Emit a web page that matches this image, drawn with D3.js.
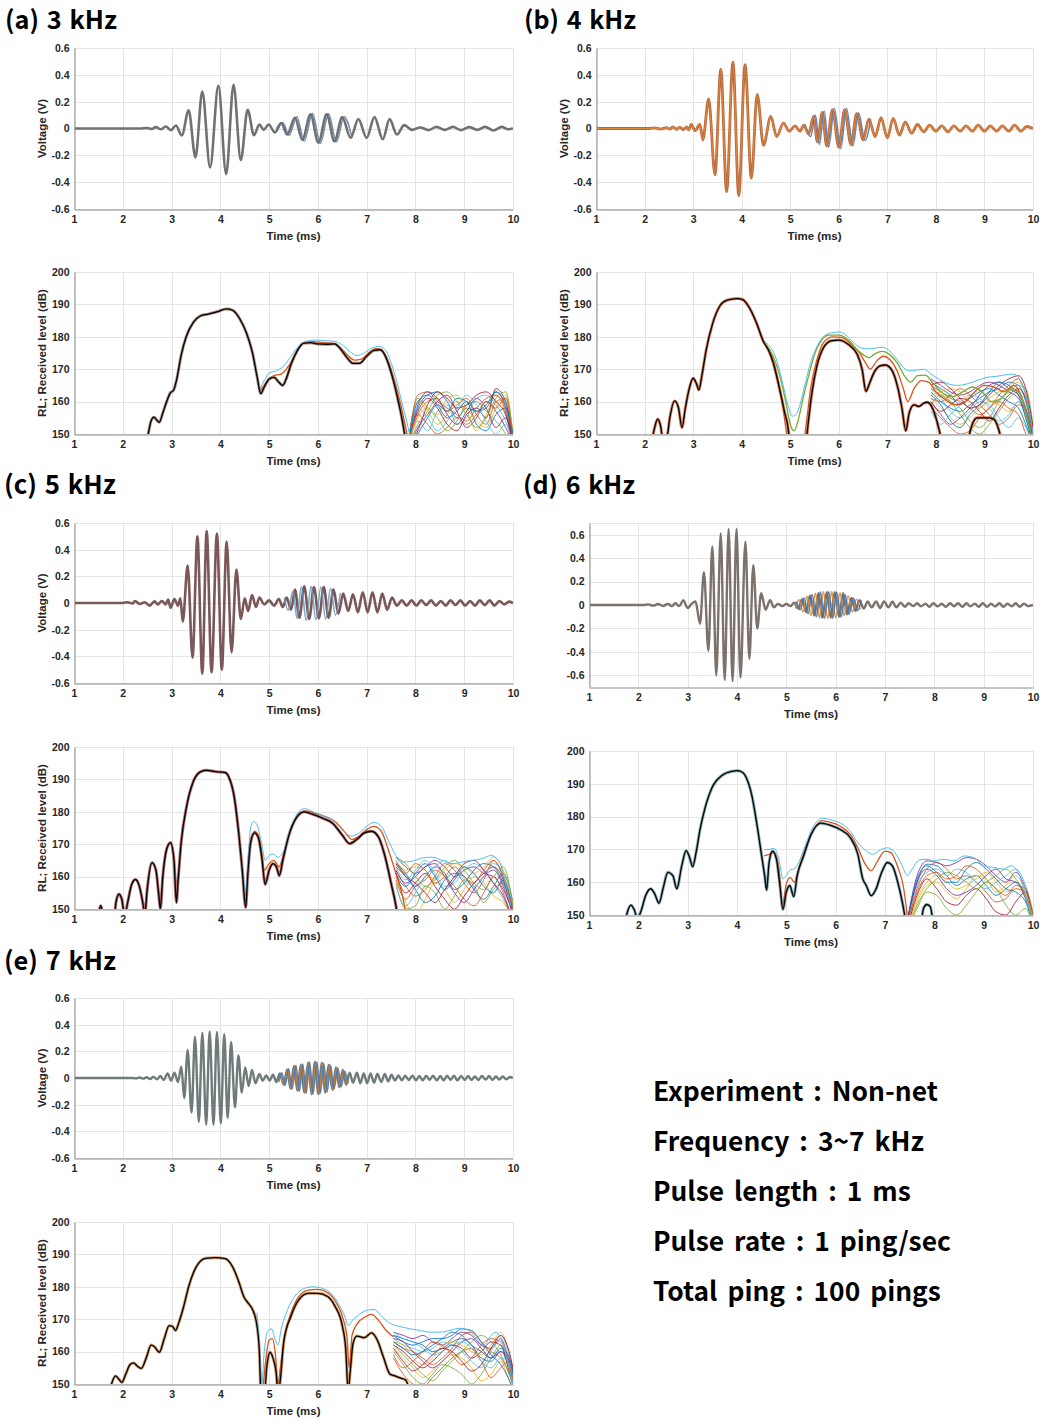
<!DOCTYPE html>
<html><head><meta charset="utf-8">
<script src="https://cdn.jsdelivr.net/npm/d3@7"></script>
<style>body{margin:0;background:#fff}svg{display:block}</style>
</head><body>
<svg id="c" width="1046" height="1420"></svg>
<script>
// ---------------- text / ticks ----------------
const panelLabels = ["(a) 3 kHz", "(b) 4 kHz", "(c) 5 kHz", "(d) 6 kHz", "(e) 7 kHz"];
const timeTicks = [1, 2, 3, 4, 5, 6, 7, 8, 9, 10];
const voltTicks = [-0.6, -0.4, -0.2, 0, 0.2, 0.4, 0.6];
const rlTicks = [150, 160, 170, 180, 190, 200];
const infoLines = ["Experiment : Non-net", "Frequency : 3~7 kHz", "Pulse length : 1 ms", "Pulse rate : 1 ping/sec", "Total ping : 100 pings"];

// ---------------- voltage waveforms (t ms, V) at extrema ----------------
const voltA = [[1,0],[2.35,0],[2.5,0.004],[2.59,-0.004],[2.68,0.01],[2.78,-0.006],[2.88,0.015],[2.99,-0.012],[3.09,0.022],[3.21,-0.052],[3.35,0.135],[3.49,-0.215],[3.63,0.275],[3.79,-0.29],[3.96,0.32],[4.12,-0.34],[4.27,0.325],[4.42,-0.235],[4.56,0.14],[4.69,-0.05],[4.8,0.03],[4.89,-0.01],[4.99,0.03],[5.12,-0.03],[5.25,0.04],[5.37,-0.045],[5.53,0.08],[5.68,-0.085],[5.85,0.105],[6.01,-0.105],[6.18,0.105],[6.34,-0.095],[6.5,0.085],[6.67,-0.07],[6.83,0.07],[7.0,-0.07],[7.16,0.085],[7.33,-0.08],[7.47,0.07],[7.62,-0.045],[7.77,0.025],[7.93,-0.01],[8.1,0.008],[8.27,-0.012],[8.43,0.012],[8.6,-0.01],[8.77,0.012],[8.93,-0.012],[9.1,0.01],[9.27,-0.01],[9.43,0.012],[9.6,-0.015],[9.77,0.012],[9.9,-0.006],[10,0]];
const voltA_alt = [[5.15,0],[5.28,0.045],[5.41,-0.05],[5.57,0.088],[5.72,-0.095],[5.89,0.112],[6.05,-0.112],[6.22,0.11],[6.38,-0.1],[6.54,0.088],[6.7,-0.07]];

const voltB = [[1,0],[2.1,0],[2.2,0.005],[2.33,-0.004],[2.45,0.006],[2.52,-0.005],[2.58,0.012],[2.66,-0.006],[2.72,0.01],[2.8,-0.008],[2.86,0.012],[2.91,-0.01],[2.96,0.03],[3.04,-0.015],[3.14,0.03],[3.2,-0.085],[3.32,0.22],[3.45,-0.345],[3.57,0.44],[3.69,-0.47],[3.82,0.495],[3.94,-0.5],[4.07,0.475],[4.2,-0.37],[4.32,0.255],[4.45,-0.125],[4.6,0.09],[4.72,-0.06],[4.86,0.04],[4.98,-0.02],[5.1,0.02],[5.2,-0.02],[5.28,0.025],[5.38,-0.04],[5.48,0.09],[5.56,-0.1],[5.66,0.12],[5.75,-0.13],[5.87,0.14],[6.0,-0.14],[6.12,0.14],[6.25,-0.12],[6.37,0.11],[6.5,-0.085],[6.62,0.07],[6.75,-0.06],[6.87,0.08],[7.0,-0.07],[7.12,0.075],[7.25,-0.05],[7.37,0.05],[7.5,-0.035],[7.62,0.03],[7.75,-0.025],[7.87,0.025],[8.0,-0.02],[8.12,0.02],[8.25,-0.025],[8.37,0.02],[8.5,-0.02],[8.62,0.02],[8.75,-0.02],[8.87,0.025],[9.0,-0.02],[9.12,0.02],[9.25,-0.02],[9.37,0.02],[9.5,-0.02],[9.62,0.025],[9.75,-0.02],[9.87,0.015],[10,0]];
const voltB_alt = [[5.3,0.03],[5.42,-0.06],[5.52,0.1],[5.6,-0.12],[5.7,0.13],[5.79,-0.14],[5.91,0.15],[6.04,-0.15],[6.16,0.15],[6.29,-0.13],[6.41,0.115],[6.54,-0.09],[6.66,0.07]];

const voltC = [[1,0],[2.0,0],[2.1,0.006],[2.2,-0.004],[2.25,0.015],[2.35,-0.008],[2.45,0.006],[2.55,-0.02],[2.65,0.012],[2.72,-0.01],[2.8,0.015],[2.88,-0.01],[2.93,0.025],[2.98,-0.035],[3.06,0.03],[3.13,-0.02],[3.18,0.035],[3.23,-0.14],[3.33,0.28],[3.43,-0.41],[3.53,0.5],[3.63,-0.53],[3.72,0.54],[3.82,-0.52],[3.93,0.52],[4.03,-0.5],[4.13,0.46],[4.23,-0.37],[4.33,0.25],[4.42,-0.12],[4.5,0.035],[4.57,-0.06],[4.65,0.06],[4.73,-0.03],[4.8,0.04],[4.9,-0.01],[5.0,0.02],[5.1,-0.02],[5.2,0.03],[5.28,-0.03],[5.36,0.04],[5.45,-0.05],[5.53,0.1],[5.62,-0.11],[5.72,0.125],[5.82,-0.12],[5.92,0.12],[6.02,-0.115],[6.12,0.12],[6.22,-0.11],[6.32,0.1],[6.42,-0.08],[6.52,0.07],[6.62,-0.06],[6.72,0.065],[6.82,-0.07],[6.92,0.08],[7.02,-0.07],[7.12,0.08],[7.22,-0.07],[7.32,0.07],[7.42,-0.05],[7.52,0.04],[7.62,-0.02],[7.72,0.02],[7.82,-0.02],[7.92,0.02],[8.02,-0.02],[8.12,0.02],[8.22,-0.015],[8.32,0.02],[8.42,-0.02],[8.52,0.015],[8.62,-0.02],[8.72,0.02],[8.82,-0.015],[8.92,0.02],[9.02,-0.02],[9.12,0.015],[9.22,-0.02],[9.32,0.02],[9.42,-0.015],[9.52,0.02],[9.62,-0.02],[9.72,0.015],[9.82,-0.01],[9.92,0.01],[10,0]];
const voltC_alt = [[5.31,0.04],[5.39,-0.055],[5.49,0.09],[5.57,-0.115],[5.66,0.12],[5.76,-0.13],[5.86,0.125],[5.96,-0.125],[6.06,0.12],[6.16,-0.12],[6.26,0.11],[6.36,-0.09],[6.46,0.075]];

const voltD = [[1,0],[2.1,0],[2.2,0.005],[2.3,-0.005],[2.4,0.008],[2.5,-0.008],[2.6,0.01],[2.68,-0.01],[2.75,0.015],[2.83,-0.01],[2.91,0.04],[3.0,-0.025],[3.08,0.01],[3.16,0.03],[3.25,-0.16],[3.33,0.28],[3.42,-0.39],[3.5,0.5],[3.58,-0.6],[3.67,0.61],[3.75,-0.64],[3.83,0.65],[3.91,-0.65],[3.99,0.65],[4.07,-0.62],[4.17,0.54],[4.25,-0.46],[4.33,0.34],[4.41,-0.2],[4.49,0.1],[4.58,-0.04],[4.67,0.04],[4.75,-0.02],[4.83,0.01],[4.92,-0.01],[5.0,0.01],[5.08,-0.01],[5.16,0.02],[5.24,-0.03],[5.32,0.05],[5.4,-0.06],[5.48,0.08],[5.57,-0.09],[5.65,0.1],[5.73,-0.11],[5.82,0.11],[5.9,-0.11],[5.98,0.11],[6.07,-0.1],[6.15,0.1],[6.23,-0.08],[6.32,0.06],[6.4,-0.05],[6.48,0.04],[6.57,-0.03],[6.65,0.03],[6.73,-0.02],[6.82,0.03],[6.9,-0.025],[6.98,0.03],[7.07,-0.02],[7.15,0.03],[7.23,-0.02],[7.32,0.02],[7.4,-0.015],[7.48,0.015],[7.57,-0.01],[7.65,0.015],[7.73,-0.012],[7.82,0.012],[7.9,-0.015],[7.98,0.015],[8.07,-0.012],[8.15,0.012],[8.23,-0.015],[8.32,0.015],[8.4,-0.012],[8.48,0.015],[8.57,-0.015],[8.65,0.015],[8.73,-0.012],[8.82,0.012],[8.9,-0.015],[8.98,0.015],[9.07,-0.015],[9.15,0.012],[9.23,-0.012],[9.32,0.015],[9.4,-0.015],[9.48,0.012],[9.57,-0.012],[9.65,0.015],[9.73,-0.015],[9.82,0.012],[9.9,-0.01],[10,0]];
const voltD_alt1 = [[5.2,0.03],[5.28,-0.04],[5.36,0.06],[5.44,-0.075],[5.52,0.09],[5.61,-0.1],[5.69,0.11],[5.77,-0.115],[5.86,0.115],[5.94,-0.115],[6.02,0.11],[6.11,-0.105],[6.19,0.09],[6.27,-0.08],[6.36,0.06],[6.44,-0.05],[6.52,0.04]];
const voltD_alt2 = [[5.18,-0.03],[5.26,0.045],[5.34,-0.06],[5.42,0.075],[5.5,-0.09],[5.59,0.1],[5.67,-0.11],[5.75,0.115],[5.84,-0.115],[5.92,0.115],[6.0,-0.11],[6.09,0.105],[6.17,-0.09],[6.25,0.08],[6.34,-0.06],[6.42,0.05],[6.5,-0.04]];

const voltE = [[1,0],[2.2,0],[2.28,-0.003],[2.35,0.004],[2.42,-0.005],[2.49,0.006],[2.56,-0.008],[2.63,0.01],[2.7,-0.01],[2.77,0.015],[2.84,-0.015],[2.92,0.035],[2.99,-0.02],[3.06,0.04],[3.13,-0.03],[3.2,0.085],[3.26,-0.15],[3.33,0.21],[3.41,-0.26],[3.48,0.31],[3.56,-0.33],[3.63,0.34],[3.71,-0.35],[3.78,0.35],[3.86,-0.35],[3.93,0.345],[4.01,-0.34],[4.08,0.33],[4.15,-0.3],[4.22,0.27],[4.3,-0.22],[4.37,0.17],[4.44,-0.11],[4.51,0.08],[4.58,-0.06],[4.65,0.06],[4.72,-0.04],[4.8,0.03],[4.87,-0.02],[4.94,0.02],[5.01,-0.02],[5.08,0.025],[5.15,-0.03],[5.22,0.035],[5.3,-0.05],[5.37,0.065],[5.44,-0.08],[5.51,0.09],[5.58,-0.095],[5.65,0.1],[5.72,-0.11],[5.8,0.115],[5.87,-0.12],[5.94,0.12],[6.01,-0.12],[6.08,0.115],[6.15,-0.11],[6.22,0.1],[6.3,-0.09],[6.37,0.08],[6.44,-0.07],[6.51,0.06],[6.58,-0.05],[6.65,0.04],[6.72,-0.035],[6.8,0.04],[6.87,-0.04],[6.94,0.035],[7.01,-0.04],[7.08,0.035],[7.15,-0.035],[7.22,0.03],[7.3,-0.03],[7.37,0.03],[7.44,-0.025],[7.51,0.025],[7.58,-0.02],[7.65,0.02],[7.72,-0.018],[7.79,0.018],[7.86,-0.015],[7.94,0.018],[8.01,-0.018],[8.08,0.015],[8.15,-0.018],[8.22,0.018],[8.29,-0.015],[8.36,0.018],[8.44,-0.018],[8.51,0.015],[8.58,-0.018],[8.65,0.018],[8.72,-0.015],[8.79,0.018],[8.86,-0.018],[8.94,0.015],[9.01,-0.015],[9.08,0.015],[9.15,-0.015],[9.22,0.012],[9.29,-0.015],[9.36,0.015],[9.44,-0.012],[9.51,0.015],[9.58,-0.015],[9.65,0.012],[9.72,-0.012],[9.79,0.012],[9.86,-0.01],[9.94,0.008],[10,0]];
const voltE_alt1 = [[5.2,-0.03],[5.26,0.04],[5.33,-0.055],[5.4,0.07],[5.47,-0.085],[5.55,0.095],[5.62,-0.1],[5.69,0.105],[5.76,-0.115],[5.83,0.12],[5.9,-0.12],[5.98,0.12],[6.05,-0.115],[6.12,0.11],[6.19,-0.105],[6.26,0.095],[6.33,-0.085],[6.41,0.075],[6.48,-0.065],[6.55,0.05],[6.62,-0.04]];
const voltE_alt2 = [[5.24,0.035],[5.31,-0.05],[5.38,0.065],[5.45,-0.08],[5.53,0.09],[5.6,-0.1],[5.67,0.105],[5.74,-0.11],[5.81,0.115],[5.88,-0.12],[5.96,0.12],[6.03,-0.12],[6.1,0.115],[6.17,-0.105],[6.24,0.1],[6.31,-0.09],[6.39,0.08],[6.46,-0.065],[6.53,0.055],[6.6,-0.045]];

// ---------------- received level (t ms, dB) ----------------
const rlA_black = [[2.45,146],[2.52,150],[2.58,154],[2.64,155.2],[2.7,154.2],[2.75,153.6],[2.82,156.5],[2.9,160],[2.97,162.6],[3.04,163.5],[3.1,166.5],[3.2,174.5],[3.3,180],[3.45,184.5],[3.6,186.5],[3.75,187],[3.95,187.8],[4.12,188.6],[4.25,188.2],[4.4,185.5],[4.54,181],[4.66,175],[4.75,168],[4.83,162.5],[4.9,164.5],[5.0,167],[5.1,167.5],[5.2,166],[5.28,165],[5.35,167],[5.45,171.5],[5.57,175.5],[5.7,178],[5.85,178.2],[6.0,177.8],[6.2,177.7],[6.35,177.8],[6.45,176.5],[6.6,173.5],[6.72,171.8],[6.85,171.8],[7.0,174],[7.15,175.8],[7.28,176],[7.4,173.5],[7.52,168],[7.62,162],[7.72,155],[7.8,148]];
const rlA_upper = [[4.8,163.5],[4.9,166.5],[5.0,168.8],[5.15,169.5],[5.3,171],[5.45,174],[5.6,177],[5.75,178.6],[5.95,179],[6.15,178.8],[6.35,178.6],[6.5,177.5],[6.65,175.5],[6.8,174.2],[6.95,175],[7.1,176.5],[7.25,177],[7.38,176],[7.5,172],[7.62,166],[7.75,158],[7.85,152],[7.92,147]];
const rlA_mid = [[4.8,163],[4.95,166],[5.1,168],[5.25,168.5],[5.4,171],[5.55,175],[5.7,178],[5.9,178.5],[6.1,178.2],[6.3,178],[6.45,176.8],[6.6,174.5],[6.75,172.8],[6.9,173.2],[7.05,175.2],[7.2,176.4],[7.33,175.5],[7.45,172],[7.58,166],[7.7,159],[7.8,152],[7.87,147]];
const rlA_tailT = [7.85, 8.05, 8.25, 8.45, 8.65, 8.85, 9.05, 9.25, 9.45, 9.65, 9.85, 10];
const rlA_tail = [
  [147,158,162,163,160,155,158,157,159,163,158,148],
  [146,156,160,161,157,159,161,156,153,160,161,150],
  [148,160,157,153,156,160,157,151,156,162,156,146],
  [145,152,156,160,162,157,152,155,160,157,152,147],
  [147,161,158,155,151,154,159,160,157,154,150,145],
  [146,154,151,157,159,153,155,161,162,159,154,148],
  [148,157,161,158,153,151,156,158,155,164,160,149],
  [145,150,155,159,157,161,160,153,151,156,158,147],
  [147,162,163,160,158,156,154,158,161,162,157,146],
  [146,155,158,156,161,162,158,154,152,158,162,150],
  [147,159,163,161,156,153,157,161,158,152,155,146],
  [146,153,157,162,163,160,156,152,155,161,163,149],
  [148,158,155,151,154,158,162,159,154,150,153,145],
  [145,151,159,163,161,158,159,162,163,160,156,148],
  [147,160,162,159,155,157,160,157,158,163,159,150],
  [146,156,153,150,152,155,153,156,160,158,161,147]
];

const rlB_black = [[2.15,148],[2.2,151.5],[2.27,154.6],[2.33,152.5],[2.38,148],[2.46,149],[2.52,155],[2.62,160.2],[2.7,158],[2.77,152],[2.84,158],[2.92,164],[3.0,167.2],[3.07,165.5],[3.12,163.6],[3.18,168],[3.27,176],[3.4,184],[3.55,189.5],[3.7,191.3],[3.9,191.8],[4.02,191.5],[4.15,189.2],[4.3,184.5],[4.45,178.5],[4.55,176],[4.65,172],[4.78,164],[4.88,157],[4.97,150],[5.02,140],[5.28,140],[5.36,152],[5.45,163],[5.55,171],[5.68,176.5],[5.85,178.8],[6.0,179],[6.2,177.6],[6.38,174.6],[6.48,170],[6.56,163.2],[6.63,165.5],[6.72,168.8],[6.85,171],[6.96,171.3],[7.1,169.5],[7.22,164],[7.3,158],[7.38,151],[7.45,156.5],[7.55,159],[7.65,158.5],[7.75,159.5],[7.82,159.8],[7.92,158.3],[8.02,154],[8.1,149],[8.2,140],[8.6,140],[8.68,149],[8.75,153],[8.85,155],[9.1,155],[9.2,154.5],[9.28,152],[9.35,148],[9.45,140]];
const rlB_upper = [[4.45,178.8],[4.55,177.5],[4.68,174.5],[4.8,168.5],[4.9,162],[4.97,158],[5.05,155.5],[5.12,156],[5.2,159],[5.3,165],[5.42,172],[5.55,177],[5.7,180.3],[5.85,181.2],[6.02,181.5],[6.15,180.5],[6.3,178.3],[6.45,176.6],[6.6,176.3],[6.75,176.5],[6.9,176.8],[7.02,176],[7.15,174],[7.3,171],[7.45,169.5],[7.6,169.7],[7.75,170],[7.9,168.5],[8.05,167],[8.25,165.5],[8.45,165],[8.65,165.5],[8.85,166.5],[9.05,167.5],[9.25,167.8],[9.45,168.3],[9.6,168.5],[9.72,167],[9.85,162],[9.95,155],[10,150]];
const rlB_mid = [[4.5,177],[4.62,174],[4.75,166],[4.85,158],[4.93,150],[5.0,145],[5.25,145],[5.32,152],[5.42,164],[5.55,173],[5.7,178.5],[5.88,180],[6.05,179.8],[6.25,177.8],[6.42,175.2],[6.55,172],[6.65,170],[6.78,172.5],[6.92,174],[7.05,173],[7.2,169.5],[7.33,164],[7.42,160],[7.55,164],[7.7,166.5],[7.85,166],[8.0,163],[8.2,160.5],[8.4,159],[8.6,160],[8.8,163],[9.0,165],[9.2,164.5],[9.4,163],[9.6,165],[9.75,162],[9.9,154],[10,148]];
const rlB_mid2 = [[4.5,177.5],[4.65,174],[4.8,167],[4.92,159],[5.0,153],[5.08,151],[5.16,154],[5.25,160],[5.38,168],[5.5,174.5],[5.65,179],[5.8,180.5],[6.0,180.5],[6.2,179],[6.38,176],[6.5,174.5],[6.62,173.5],[6.75,174.8],[6.9,175.5],[7.05,174.5],[7.2,172],[7.35,168],[7.48,166],[7.62,168],[7.78,168.2],[7.95,165.5],[8.15,162.5],[8.35,161.5],[8.55,163],[8.75,164.5],[8.95,163],[9.15,160],[9.35,161],[9.55,164],[9.7,163],[9.85,157],[9.95,151]];
const rlB_tailT = [7.9, 8.1, 8.3, 8.5, 8.7, 8.9, 9.1, 9.3, 9.5, 9.7, 9.85, 10];
const rlB_tail = [
  [163,160,158,157,159,161,163,164,166,165,160,150],
  [165,163,161,160,158,156,158,162,165,167,162,152],
  [161,158,155,153,155,158,160,159,157,160,156,148],
  [167,165,163,162,163,165,166,165,163,161,157,150],
  [159,162,160,156,152,150,153,157,161,163,158,149],
  [164,161,157,155,157,160,159,155,152,155,152,146],
  [160,157,159,161,160,157,154,158,162,164,161,151],
  [166,164,162,159,161,163,164,162,160,158,153,147],
  [158,155,152,150,151,155,158,160,158,156,150,145],
  [162,163,164,163,160,158,161,163,164,166,163,152],
  [160,156,153,155,158,162,165,166,164,162,158,149],
  [164,162,160,158,154,152,155,160,163,165,164,153],
  [157,153,156,159,162,161,158,154,156,160,155,146],
  [165,166,164,161,158,159,162,165,167,168,164,152],
  [162,159,154,152,156,159,163,166,165,162,155,147],
  [161,160,162,164,162,159,156,153,155,159,157,148]
];

const rlC_black = [[1.5,148],[1.55,151],[1.6,148],[1.82,147],[1.86,152],[1.92,154.6],[1.98,153],[2.04,148],[2.1,152],[2.18,157.5],[2.26,159.1],[2.34,157],[2.42,151],[2.45,148],[2.5,156],[2.6,164.3],[2.68,162],[2.74,154],[2.77,150],[2.82,160],[2.9,168.5],[2.98,170.5],[3.05,165],[3.1,152],[3.13,158],[3.2,171],[3.3,181],[3.45,189.5],[3.6,192.4],[3.72,192.8],[3.9,192.4],[4.1,192.1],[4.18,190.5],[4.28,185],[4.38,173],[4.45,162],[4.52,150.5],[4.56,160],[4.62,170.5],[4.7,173.5],[4.78,172],[4.85,166],[4.92,157.6],[5.0,162],[5.08,164],[5.15,163],[5.21,160.3],[5.28,165],[5.4,172.5],[5.55,178],[5.72,180],[5.9,179.2],[6.1,178],[6.3,176.5],[6.5,172.8],[6.65,170.2],[6.8,171.5],[6.95,173.5],[7.1,174],[7.25,172],[7.38,166],[7.5,158],[7.6,151],[7.65,146]];
const rlC_upper = [[4.45,164],[4.52,155],[4.56,163],[4.62,175],[4.68,177],[4.75,176],[4.85,170],[4.92,165],[5.0,166.5],[5.08,167],[5.18,166],[5.3,168],[5.42,174],[5.58,179.5],[5.72,181],[5.9,180],[6.1,178.8],[6.3,177.5],[6.5,174.5],[6.68,172.5],[6.85,173.5],[7.0,175.5],[7.15,176.7],[7.3,175.5],[7.45,171],[7.6,166.5],[7.75,164.5],[7.95,164.8],[8.15,165.8],[8.35,166],[8.55,165],[8.75,164],[8.95,164.5],[9.15,165],[9.35,165.5],[9.55,166.5],[9.7,165],[9.85,158],[9.95,151]];
const rlC_mid = [[4.6,168],[4.7,174],[4.8,172],[4.9,162],[5.0,164],[5.1,165],[5.2,163],[5.3,167],[5.45,175],[5.6,179],[5.75,180.3],[5.95,179.5],[6.15,178.5],[6.35,177],[6.55,173.8],[6.7,171.5],[6.85,172.5],[7.0,174.5],[7.15,175.5],[7.3,174],[7.45,168],[7.6,161],[7.72,155],[7.8,149]];
const rlC_tailT = [7.6, 7.8, 8.0, 8.2, 8.4, 8.6, 8.8, 9.0, 9.2, 9.4, 9.6, 9.8, 10];
const rlC_tail = [
  [165,160,157,160,163,161,156,158,162,164,163,158,150],
  [162,157,154,156,160,164,162,158,155,159,165,160,151],
  [160,152,148,153,158,156,152,156,160,158,154,152,147],
  [166,163,161,163,165,163,160,162,163,161,160,156,149],
  [158,150,151,157,155,150,154,159,157,152,156,158,150],
  [163,159,162,165,161,157,158,162,164,162,158,153,147],
  [161,155,158,161,157,153,150,154,158,161,163,159,148],
  [164,161,156,152,154,159,161,160,156,153,157,161,152],
  [159,153,157,159,162,160,157,153,151,155,160,155,146],
  [165,162,163,162,159,162,164,163,161,163,166,162,152],
  [162,158,160,163,164,160,155,152,156,160,162,157,148],
  [166,164,160,157,159,163,165,162,158,156,160,163,151],
  [157,151,155,160,163,165,162,159,157,160,164,161,150],
  [164,160,158,155,152,156,160,164,165,162,158,154,146],
  [161,157,161,164,160,156,159,163,161,157,155,159,149],
  [163,161,164,162,158,160,163,160,158,162,165,160,150]
];

const rlD_black = [[1.72,147],[1.78,151],[1.85,153],[1.92,151.5],[1.98,149],[2.05,151],[2.15,156],[2.25,158],[2.33,156.5],[2.42,153.6],[2.5,158],[2.6,163],[2.7,162],[2.78,158],[2.88,165],[2.97,169.6],[3.04,167.5],[3.1,164.7],[3.17,169],[3.25,176],[3.35,182.5],[3.5,189],[3.7,192.6],[3.9,193.8],[4.0,194],[4.1,193.6],[4.2,191.5],[4.3,186.5],[4.4,178],[4.5,168],[4.56,162],[4.6,157.6],[4.65,166],[4.72,169.5],[4.8,167],[4.87,159],[4.93,151.7],[5.0,157],[5.07,159],[5.15,155.6],[5.22,162],[5.35,168],[5.5,174.5],[5.7,178],[5.9,177.3],[6.1,176],[6.3,173.5],[6.45,168.5],[6.55,161],[6.62,159],[6.72,155.9],[6.82,158],[6.92,162.5],[7.05,166],[7.15,165],[7.25,160.5],[7.35,154],[7.42,148],[7.5,140],[7.7,144],[7.78,152],[7.85,153.2],[7.92,152.5],[7.97,148],[8.05,140]];
const rlD_upper = [[4.55,170],[4.65,170],[4.75,170.3],[4.85,167],[4.93,161],[5.0,162],[5.08,163.8],[5.15,164],[5.25,166],[5.38,171],[5.55,177],[5.72,179.5],[5.9,179],[6.1,178],[6.3,175.5],[6.45,172],[6.6,169.8],[6.75,168.5],[6.9,169.8],[7.05,170.5],[7.2,169],[7.35,165],[7.45,162],[7.55,164],[7.7,166.8],[7.85,167],[8.0,166.5],[8.2,167],[8.4,166.5],[8.6,168],[8.8,167.5],[9.0,165],[9.2,164.5],[9.4,164],[9.55,165],[9.7,163],[9.85,156],[9.95,150]];
const rlD_mid = [[4.55,168],[4.65,168.5],[4.75,169],[4.85,164],[4.92,153],[5.0,159.5],[5.08,161.5],[5.16,160],[5.25,164],[5.4,171],[5.55,176],[5.72,178.8],[5.9,178.2],[6.1,177],[6.3,174.5],[6.45,170.5],[6.6,165.5],[6.72,163.5],[6.85,166.5],[7.0,169.5],[7.12,169],[7.25,165],[7.38,158],[7.45,150]];
const rlD_tailT = [7.45, 7.65, 7.85, 8.05, 8.25, 8.45, 8.65, 8.85, 9.05, 9.25, 9.45, 9.65, 9.85, 10];
const rlD_tail = [
  [148,160,165.5,165,162,159,161,162,159,156,158,160,156,150],
  [147,158,164,166,164,161,162,160,157,154,155,158,157,149],
  [146,155,160,162,160,158,159,161,163,160,157,158,155,148],
  [148,162,166.5,166,165,166,167.5,167,165,162,160,163,158,150],
  [145,152,157,156,152,150,153,157,160,158,153,150,152,146],
  [147,159,163,164,162,164,163,160,158,160,162,164,159,151],
  [146,156,161,158,154,153,156,158,155,151,150,154,157,148],
  [148,161,165,163,160,160,164,166,164,161,158,157,154,147],
  [147,157,162,163,161,162,165,164,161,158,156,159,158,150],
  [146,154,159,160,157,155,158,162,161,157,159,162,157,149],
  [148,160,164,162,158,156,157,159,162,164,161,160,155,147],
  [145,153,158,161,163,162,160,158,160,162,164,161,156,148]
];

const rlE_black = [[1.72,147],[1.78,150.5],[1.85,152.5],[1.92,151.5],[1.98,150.5],[2.06,153],[2.15,156],[2.22,156.5],[2.3,155.5],[2.38,154.8],[2.48,158],[2.58,162],[2.65,161.5],[2.75,159.8],[2.85,164],[2.95,168],[3.02,167.8],[3.08,166.5],[3.15,169],[3.25,174],[3.35,180],[3.5,186],[3.7,188.8],[3.9,189],[4.1,188.7],[4.25,186.2],[4.38,181.5],[4.48,177],[4.58,174.8],[4.66,173],[4.74,169],[4.8,160],[4.83,148],[4.9,146],[4.95,155],[5.02,159.8],[5.08,158],[5.14,154],[5.18,148],[5.22,150],[5.3,163],[5.45,171],[5.6,175.8],[5.8,178],[6.0,178],[6.2,177],[6.35,174],[6.5,168],[6.57,161],[6.62,148],[6.67,155],[6.72,162.5],[6.8,164.8],[6.95,164.3],[7.1,165.8],[7.22,163.5],[7.35,158],[7.48,153],[7.58,152.5],[7.7,151.8],[7.8,151.2],[7.88,148]];
const rlE_upper = [[4.75,172],[4.8,163],[4.85,150],[4.9,160],[4.98,166.5],[5.05,167],[5.12,164],[5.18,162],[5.25,167],[5.38,173],[5.55,177.5],[5.72,179.5],[5.9,180],[6.1,179.5],[6.3,177.5],[6.45,174],[6.55,171],[6.62,168],[6.7,169.5],[6.85,171.5],[7.0,172.7],[7.15,173],[7.3,171],[7.45,169],[7.6,168],[7.75,167.5],[7.9,167],[8.1,166.5],[8.3,166],[8.5,166],[8.7,166.5],[8.9,167.2],[9.1,166.5],[9.25,164],[9.4,162],[9.55,165],[9.65,166],[9.8,162],[9.92,155],[10,150]];
const rlE_mid = [[4.8,160],[4.86,148],[4.92,156],[5.0,163.5],[5.07,164],[5.13,159],[5.18,150],[5.23,155],[5.32,165],[5.45,172],[5.6,176.8],[5.8,179],[6.0,179.2],[6.2,178.2],[6.38,175],[6.52,170],[6.6,164],[6.64,155],[6.7,165],[6.8,168.5],[6.95,170.5],[7.1,171.5],[7.25,169.5],[7.4,166.5],[7.55,164.5]];
const rlE_tailT = [7.55, 7.75, 7.95, 8.15, 8.35, 8.55, 8.75, 8.95, 9.15, 9.35, 9.55, 9.75, 9.9, 10.05];
const rlE_tail = [
  [165,164,163,162,160,161,163,164,162,158,157,160,156,148],
  [163,161,160,158,156,158,161,165,166,163,160,158,154,147],
  [161,158,155,152,154,157,159,158,155,151,153,157,152,146],
  [166,165,164,165,163,162,164,166,165,162,161,164,158,149],
  [160,156,152,150,153,156,155,153,150,153,158,162,156,148],
  [164,162,161,160,161,163,162,160,157,155,160,165,160,150],
  [162,160,157,155,157,160,162,161,158,160,163,162,155,147],
  [165,163,162,163,164,164,165,167,166.5,163,159,156,152,146],
  [158,153,150,149,152,155,158,160,161,157,152,155,157,149],
  [163,162,158,156,158,162,163,162,160,159,162,166,161,151],
  [164,163,160,157,155,157,160,163,164,161,158,160,158,149],
  [162,159,156,153,151,154,157,160,163,165,163,159,154,147],
  [166,164,163,161,159,160,162,163,161,157,155,158,157,148],
  [161,157,154,156,159,161,160,157,154,156,161,165,161,151],
  [163,161,159,160,162,164,166,165,162,160,158,161,159,150],
  [159,155,157,160,163,162,159,156,158,162,164,163,157,148]
];

// ---------------- drawing ----------------
const PALETTE = ['#0072BD','#D95319','#EDB120','#7E2F8E','#77AC30','#4DBEEE','#A2142F'];
const svg = d3.select('#c');
const AXIS_FONT = "'Liberation Sans', Arial, sans-serif";
const TITLE_FONT = "'Noto Sans CJK KR', 'Noto Sans', sans-serif";
let clipId = 0;

function plot(box, yDomain, yTicks, yLabel, series) {
  const g = svg.append('g');
  const x = d3.scaleLinear().domain([1, 10]).range([box.L, box.R]);
  const y = d3.scaleLinear().domain(yDomain).range([box.B, box.T]);
  g.append('g').selectAll('line').data(timeTicks).join('line')
    .attr('x1', d => Math.round(x(d)) + 0.5).attr('x2', d => Math.round(x(d)) + 0.5)
    .attr('y1', box.T).attr('y2', box.B).attr('stroke', '#e4e4e4');
  g.append('g').selectAll('line').data(yTicks.concat([yDomain[1]])).join('line')
    .attr('y1', d => Math.round(y(d)) + 0.5).attr('y2', d => Math.round(y(d)) + 0.5)
    .attr('x1', box.L).attr('x2', box.R).attr('stroke', '#e4e4e4');
  const xa = g.append('g').attr('transform', `translate(0,${box.B + 0.5})`)
    .call(d3.axisBottom(x).tickValues(timeTicks).tickSize(0).tickPadding(6.5).tickFormat(d => String(d)));
  const ya = g.append('g').attr('transform', `translate(${box.L + 0.5},0)`)
    .call(d3.axisLeft(y).tickValues(yTicks).tickSize(0).tickPadding(5).tickFormat(d => String(d)));
  [xa, ya].forEach(a => {
    a.select('.domain').attr('stroke', '#8c8c8c').attr('stroke-width', 1);
    a.selectAll('text').attr('font-family', AXIS_FONT).attr('font-weight', 'bold')
      .attr('font-size', '10.5px').attr('fill', '#262626');
  });
  g.append('text').attr('x', (box.L + box.R) / 2).attr('y', box.B + 31)
    .attr('text-anchor', 'middle').attr('font-family', AXIS_FONT).attr('font-weight', 'bold')
    .attr('font-size', '11.5px').attr('fill', '#262626').text('Time (ms)');
  if (yLabel) {
    g.append('text').attr('transform', `translate(${box.L - 28},${(box.T + box.B) / 2}) rotate(-90)`)
      .attr('text-anchor', 'middle').attr('font-family', AXIS_FONT).attr('font-weight', 'bold')
      .attr('font-size', '11.5px').attr('fill', '#262626').text(yLabel);
  }
  const id = 'clip' + (clipId++);
  g.append('clipPath').attr('id', id).append('rect')
    .attr('x', box.L + 1).attr('y', box.T).attr('width', box.R - box.L - 1).attr('height', box.B - box.T);
  const line = d3.line().x(d => x(d[0])).y(d => y(d[1])).curve(d3.curveMonotoneX);
  const lg = g.append('g').attr('clip-path', `url(#${id})`);
  series.forEach(s => {
    lg.append('path').datum(s.data).attr('d', line).attr('fill', 'none')
      .attr('stroke', s.color).attr('stroke-width', s.width)
      .attr('stroke-opacity', s.opacity == null ? 1 : s.opacity)
      .attr('stroke-linejoin', 'round');
  });
}

function tailSeries(times, rows, width) {
  return rows.map((r, i) => ({ data: times.map((t, j) => [t, r[j]]), color: PALETTE[i % PALETTE.length], width: width, opacity: 0.85 }));
}

function rlSeries(black, upper, mids, tailT, tail, halo) {
  const s = [{ data: black, color: halo, width: 3, opacity: 0.75 }];
  s.push(...tailSeries(tailT, tail, 1));
  mids.forEach((m, i) => s.push({ data: m, color: PALETTE[(i * 3 + 1) % PALETTE.length], width: 1.3 }));
  s.push({ data: upper, color: '#4DBEEE', width: 1 });
  s.push({ data: black, color: '#000', width: 1.3 });
  return s;
}

const layouts = [
  { v: { L: 74, R: 513, T: 48, B: 209 }, r: { L: 74, R: 513, T: 272, B: 434 }, title: [5, 29] },
  { v: { L: 596, R: 1033, T: 48, B: 209 }, r: { L: 596, R: 1033, T: 272, B: 434 }, title: [524, 29] },
  { v: { L: 74, R: 513, T: 523, B: 683 }, r: { L: 74, R: 513, T: 747, B: 909 }, title: [4, 494] },
  { v: { L: 589, R: 1033, T: 523, B: 687 }, r: { L: 589, R: 1033, T: 751, B: 915 }, title: [523, 494] },
  { v: { L: 74, R: 513, T: 998, B: 1158 }, r: { L: 74, R: 513, T: 1222, B: 1384 }, title: [4, 970] }
];

const voltSeries = [
  [{ data: voltA, color: '#717171', width: 2.6 }, { data: voltA_alt, color: '#4f6f9a', width: 1.4, opacity: 0.8 }],
  [{ data: voltB, color: '#b8693c', width: 2.8 }, { data: voltB_alt, color: '#4c72b0', width: 1.5, opacity: 0.85 }, { data: voltB, color: '#e08a3c', width: 1.2, opacity: 0.9 }],
  [{ data: voltC, color: '#7b5757', width: 2.6 }, { data: voltC_alt, color: '#6b9bbd', width: 1.6, opacity: 0.85 }],
  [{ data: voltD, color: '#7c716b', width: 2.4 }, { data: voltD_alt2, color: '#d98a2e', width: 1.5, opacity: 0.9 }, { data: voltD_alt1, color: '#3f74b5', width: 1.5, opacity: 0.9 }],
  [{ data: voltE, color: '#6f7a7a', width: 2.4 }, { data: voltE_alt2, color: '#d9802e', width: 1.5, opacity: 0.9 }, { data: voltE_alt1, color: '#4a78b0', width: 1.5, opacity: 0.9 }]
];
const rlAll = [
  rlSeries(rlA_black, rlA_upper, [rlA_mid], rlA_tailT, rlA_tail, '#8a6a5a'),
  rlSeries(rlB_black, rlB_upper, [rlB_mid, rlB_mid2], rlB_tailT, rlB_tail, '#c8552e'),
  rlSeries(rlC_black, rlC_upper, [rlC_mid], rlC_tailT, rlC_tail, '#9a4040'),
  rlSeries(rlD_black, rlD_upper, [rlD_mid], rlD_tailT, rlD_tail, '#5f8f9a'),
  rlSeries(rlE_black, rlE_upper, [rlE_mid], rlE_tailT, rlE_tail, '#c07a3a')
];

layouts.forEach((lay, i) => {
  const isD = i === 3;
  plot(lay.v, isD ? [-0.7, 0.7] : [-0.6, 0.6], voltTicks, isD ? null : 'Voltage (V)', voltSeries[i]);
  plot(lay.r, [150, 200], rlTicks, isD ? null : 'RL; Received level (dB)', rlAll[i]);
  const t = svg.append('text').attr('x', lay.title[0]).attr('y', lay.title[1])
    .attr('font-family', TITLE_FONT).attr('font-weight', 'bold').attr('font-size', 25)
    .attr('word-spacing', '2px').attr('fill', '#000').text(panelLabels[i]);
  const w = t.node().getComputedTextLength();
  t.attr('font-size', (25 * 112 / w).toFixed(2));
});

// info block
const info = svg.append('g');
const rows = info.selectAll('text').data(infoLines).join('text')
  .attr('x', 653).attr('y', (d, i) => 1101 + i * 50)
  .attr('font-family', TITLE_FONT).attr('font-weight', 'bold').attr('font-size', 26)
  .attr('word-spacing', '4px').attr('fill', '#000').text(d => d);
const w0 = rows.nodes()[0].getComputedTextLength();
rows.attr('font-size', (26 * 285 / w0).toFixed(2));
</script>
</body></html>
